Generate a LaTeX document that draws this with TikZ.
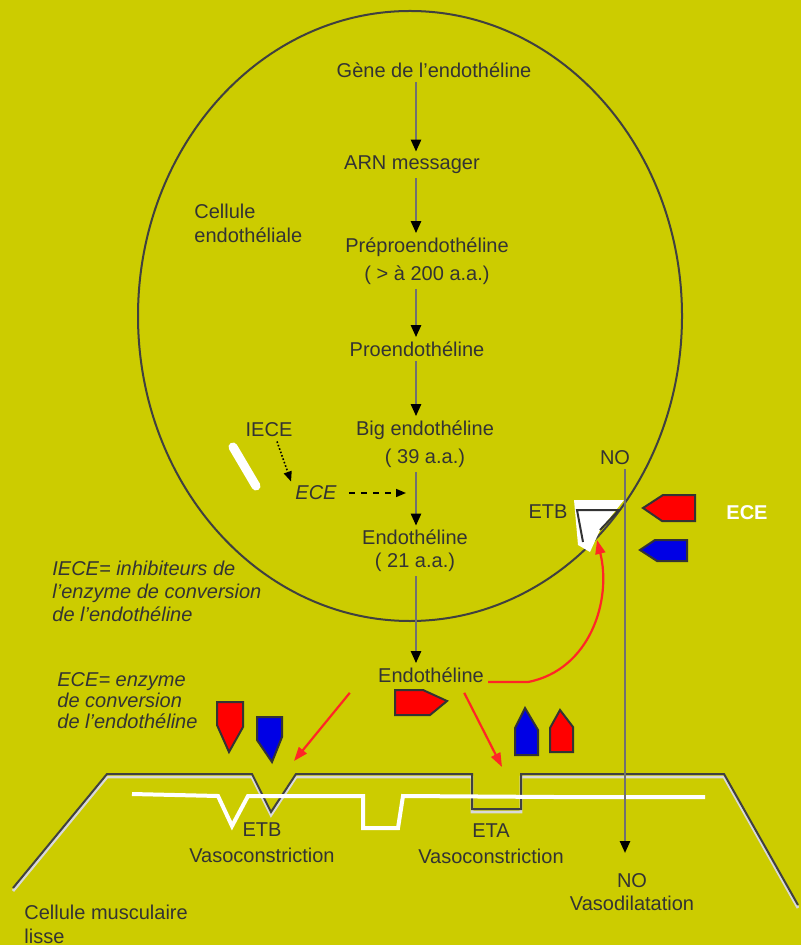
\documentclass[tikz,border=0pt]{standalone}
\usepackage{fontspec}
\setmainfont{Liberation Sans}
\usepackage{tikz}
\usetikzlibrary{arrows.meta}
\definecolor{bgyellow}{HTML}{CCCC00}
\colorlet{ink}{black!80}
\colorlet{tagred}{red}
\colorlet{tagblue}{blue!90!black}

\begin{document}
\begin{tikzpicture}[x=0.5pt, y=-0.5pt,
  every node/.style={font=\fontsize{10}{14}\selectfont, text=ink, inner sep=2pt},
  lbl/.style={align=center},
  leg/.style={align=left, anchor=west, font=\fontsize{10}{11.5}\selectfont\itshape},
  ar/.style={-{Triangle[length=6pt, width=5pt, color=black]}, draw=ink!70, line width=1.2pt},
  dotar/.style={-{Triangle[length=5pt, width=4pt]}, densely dotted, line width=0.8pt, draw=black},
  dashar/.style={-{Triangle[length=5pt, width=4pt]}, dashed, line width=0.8pt, draw=black},
  redar/.style={-{Triangle[length=7pt, width=5pt]}, draw=red!85!white, line width=1.1pt},
  wall/.style={draw=black!75, line width=1pt},
  wallshade/.style={draw=white!85!black, line width=1.4pt},
  redtag/.style={fill=tagred, draw=black!80, line width=1pt},
  bluetag/.style={fill=tagblue, draw=black!80, line width=1pt}
]
\useasboundingbox (0,0) rectangle (801,945);
\fill[bgyellow] (0,0) rectangle (801,945);

% endothelial cell
\draw[wall] (410,316) ellipse [x radius=136pt, y radius=152.5pt];

% smooth muscle membrane
\foreach \s/\st in {-1.5pt/wallshade, 0pt/wall}
  \draw[\st, yshift=\s] (13,888) -- (107,774) -- (252,774) -- (271,812) -- (296,774)
    -- (472,774) -- (472,809) -- (521,809) -- (521,774) -- (724,774) -- (798,905);
\draw[white, line width=2pt] (132,794) -- (218,796) -- (232,826) -- (248,796)
  -- (363,796) -- (363,828) -- (398,828) -- (403,796) -- (555,797) -- (705,797);

% synthesis chain
\node (gene) at (434,70) {Gène de l'endothéline};
\node (arn) at (412,165) {ARN messager};
\node[lbl] (prepro) at (427,261) {Préproendothéline\\( > à 200 a.a.)};
\node (pro) at (417,349) {Proendothéline};
\node[lbl] (big) at (425,444) {Big endothéline\\( 39 a.a.)};
\node[lbl] (endo) at (415,551) {Endothéline\\[-2.5pt]( 21 a.a.)};
\node (endoout) at (431,675) {Endothéline};
\node[align=left, anchor=west] (cellendo) at (190,223) {Cellule\\[-2pt]endothéliale};

\coordinate (axis) at (416,0);
\draw[ar] (gene.south -| axis) -- (arn.north -| axis);
\draw[ar] (arn.south -| axis) -- (prepro.north -| axis);
\draw[ar] (prepro.south -| axis) -- (pro.north -| axis);
\draw[ar] (pro.south -| axis) -- (big.north -| axis);
\draw[ar] (big.south -| axis) -- (endo.north -| axis);
\draw[ar] (endo.south -| axis) -- (endoout.north -| axis);

% converting enzyme and its inhibitor
\node (iece) at (269,430) {IECE};
\node[font=\fontsize{10}{12}\selectfont\itshape] (ece) at (316,493) {ECE};
\draw[white, line width=4.5pt, line cap=round] (233,447) -- (256,486);
\draw[dotar] ([xshift=4pt]iece.south) -- (ece.north west);
\draw[dashar, shorten <=4pt, shorten >=5pt] (ece.east) -- (ece.east -| axis);

% legends
\node[leg] (legiece) at (48,591) {IECE= inhibiteurs de\\l'enzyme de conversion\\de l'endothéline};
\node[leg] (legece) at (53,701) {ECE= enzyme\\[-1pt]de conversion\\[-1pt]de l'endothéline};

% ETB receptor on the endothelium, NO release
\node (no) at (615,458) {NO};
\node (etbtop) at (548,512) {ETB};
\node[text=white, font=\fontsize{10}{12}\selectfont\bfseries] (eceright) at (747,513) {ECE};
\fill[white] (574,500) -- (624,500) -- (600,530) -- (590,552) -- (578,545) -- cycle;
\draw[black!80, line width=1pt] (583,542) -- (577,510) -- (619,510) -- (600,530);
\coordinate (etbr) at (597,540);

\node[lbl] (etbv) at (262,843) {ETB\\[-1pt]Vasoconstriction};
\node[lbl] (etav) at (491,844) {ETA\\[-1pt]Vasoconstriction};
\node[lbl] (nov) at (632,892) {NO\\[-2.5pt]Vasodilatation};
\node[align=left, anchor=west] (muscle) at (20,924) {Cellule musculaire\\[-2pt]lisse};

\coordinate (noaxis) at (625,0);
\draw[ar, shorten >=8pt] (no.south -| noaxis) -- (nov.north -| noaxis);

% endothelin towards its receptors
\coordinate (etbsite) at (294,761);
\coordinate (etasite) at (502,767);
\draw[redar] ([xshift=-12pt, yshift=-3pt]endoout.south west) -- (etbsite);
\draw[redar] ([xshift=-12pt, yshift=-3pt]endoout.south east) -- (etasite);
\draw[redar] ([yshift=-3.5pt]endoout.east) -- (528,682)
  .. controls (590,670) and (612,600) .. (etbr);

% agonist / antagonist tags
\draw[redtag] (643,508) -- (663,495) -- (695,495) -- (695,521) -- (662,521) -- cycle;
\draw[bluetag] (640,550) -- (655,540) -- (687,540) -- (687,561) -- (657,561) -- cycle;
\draw[redtag] (217,702) -- (243,702) -- (243,727) -- (229,752) -- (217,725) -- cycle;
\draw[bluetag] (257,717) -- (282,717) -- (282,737) -- (272,762) -- (257,740) -- cycle;
\draw[redtag] (395,690) -- (423,690) -- (447,701) -- (430,715) -- (395,715) -- cycle;
\draw[bluetag] (515,755) -- (515,728) -- (525,708) -- (538,730) -- (538,755) -- cycle;
\draw[redtag] (550,752) -- (550,728) -- (560,710) -- (573,727) -- (573,752) -- cycle;
\end{tikzpicture}
\end{document}
